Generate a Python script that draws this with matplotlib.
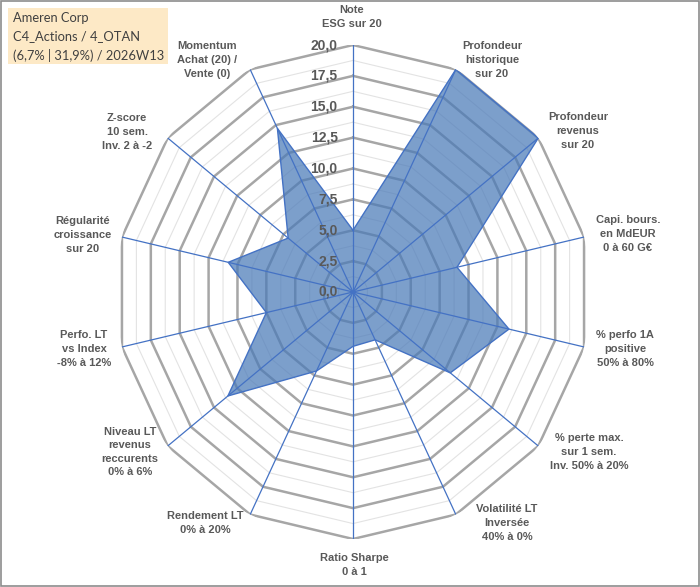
import numpy as np
import matplotlib
matplotlib.use("Agg")
import matplotlib.pyplot as plt
from matplotlib.patches import Rectangle

# ---- data ----
categories = [
    "Note\nESG sur 20",
    "Profondeur\nhistorique\nsur 20",
    "Profondeur\nrevenus\nsur 20",
    "Capi. bours.\nen MdEUR\n0 à 60 G€",
    "% perfo 1A\npositive\n50% à 80%",
    "% perte max.\nsur 1 sem.\nInv. 50% à 20%",
    "Volatilité LT\nInversée\n40% à 0%",
    "Ratio Sharpe\n0 à 1",
    "Rendement LT\n0% à 20%",
    "Niveau LT\nrevenus\nreccurents\n0% à 6%",
    "Perfo. LT\nvs Index\n-8% à 12%",
    "Régularité\ncroissance\nsur 20",
    "Z-score\n10 sem.\nInv. 2 à -2",
    "Momentum\nAchat (20) /\nVente (0)",
]
values = [5.0, 20.0, 20.0, 9.0, 13.5, 10.5, 4.3, 4.4, 7.1, 13.5, 7.5, 10.8, 7.0, 14.7]
radial_ticks = [0.0, 2.5, 5.0, 7.5, 10.0, 12.5, 15.0, 17.5, 20.0]
title_lines = ["Ameren Corp", "C4_Actions / 4_OTAN", "(6,7% | 31,9%) / 2026W13"]

# label centers (pixels) for layout
label_pos = [
    (352, 17), (492, 60), (578, 131), (628, 234), (625, 349), (589, 452),
    (507, 523), (354, 565), (205, 523), (130, 452), (84, 349), (83, 235),
    (127, 132), (207, 60),
]

W, H = 700, 587
fig = plt.figure(figsize=(W / 100, H / 100), dpi=100)
fig.patch.set_facecolor("white")

cx, cy, RX, RY = 353, 292, 237, 247
ax = fig.add_axes([(cx - RX) / W, (H - cy - RY) / H, 2 * RX / W, 2 * RY / H], projection="polar")
ax.set_aspect("auto")
ax.set_theta_zero_location("N")
ax.set_theta_direction(-1)
ax.set_ylim(0, 20)
ax.grid(False)
ax.spines["polar"].set_visible(False)
ax.set_xticks([])
ax.set_yticks([])
ax.patch.set_alpha(0)

n = len(categories)
theta = np.linspace(0, 2 * np.pi, n, endpoint=False)
theta_c = np.append(theta, theta[0])

# polygon rings
levels = np.arange(1.25, 20.01, 1.25)
for lv in levels:
    major = abs(lv / 2.5 - round(lv / 2.5)) < 1e-6
    ax.plot(theta_c, [lv] * (n + 1),
            color="#a6a6a6" if major else "#e3e3e3",
            lw=1.8 if major else 0.8, zorder=1, solid_joinstyle="miter")

# data polygon
vals_c = np.append(values, values[0])
ax.fill(theta_c, vals_c, color="#4a7ab8", alpha=0.72, zorder=2, lw=0)
ax.plot(theta_c, vals_c, color="#4472c4", lw=1.0, zorder=3)

# spokes
for t in theta:
    ax.plot([t, t], [0, 20], color="#4472c4", lw=0.9, zorder=4)

# radial tick labels
for r in radial_ticks:
    ax.annotate(f"{r:.1f}".replace(".", ","), xy=(0, r), xytext=(-11, 0),
                textcoords="offset points", ha="right", va="center",
                fontsize=10, fontweight="bold", color="#595959",
                family="Liberation Sans", zorder=5)

# category labels
for lab, (px, py) in zip(categories, label_pos):
    fig.text(px / W, 1 - py / H, lab, ha="center", va="center",
             fontsize=8, fontweight="bold", color="#595959",
             family="Liberation Sans", linespacing=1.45)

# title box
fig.patches.append(Rectangle((8 / W, 1 - 64 / H), 160 / W, 56 / H,
                             transform=fig.transFigure, facecolor="#fde9c6",
                             edgecolor="none", zorder=0))
for i, line in enumerate(title_lines):
    fig.text(13 / W, 1 - (18 + 18.5 * i) / H, line, ha="left", va="center",
             fontsize=9.3, color="#404040", family="Lato")

# figure border
fig.patches.append(Rectangle((1 / W, 1 / H), (W - 2) / W, (H - 2) / H,
                             transform=fig.transFigure, facecolor="none",
                             edgecolor="#8c8c8c", lw=1.2))

fig.savefig("out.png", dpi=100)
